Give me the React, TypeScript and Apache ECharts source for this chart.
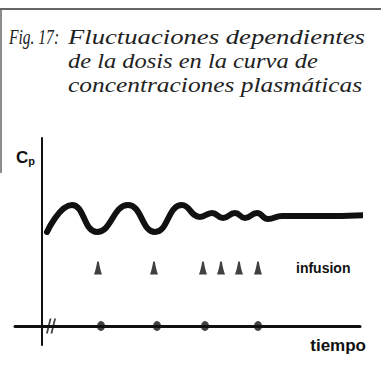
import React, { useEffect, useRef } from "react";
import * as echarts from "echarts";

// Curve of plasma concentration (time units, concentration units)
const timeSamples = [5, 30, 55, 86, 113, 140, 158, 170, 181, 193, 203, 215, 226, 240, 278, 325];
const concentration = [94, 121, 94, 121, 94, 121, 109, 113, 108, 113, 108, 113, 107, 110, 110, 111];
// Infusion markers (arrowheads)
const infusionTimes = [56, 112, 161, 179, 197, 216];
const infusionLevel = 58;
// Dose marks on the time axis
const doseTimes = [59, 115, 163, 216];
// Axis break position
const breakTimes = [9];

const titleLead = "Fig. 17:";
const titleLines = [
  "Fluctuaciones dependientes",
  "de la dosis en la curva de",
  "concentraciones plasmáticas",
];
const xAxisName = "tiempo";
const yAxisName = "C";
const yAxisSub = "p";
const infusionLabel = "infusion";

// layout: horizontal stretch of title lines to mimic the original (wider) typeface
const leadScale = 0.74;
const lineScales = [1.27, 1.165, 1.21];

const titleStyle = {
  fontFamily: "Liberation Serif, serif",
  fontStyle: "italic",
  fontSize: 21,
  fill: "#222",
  verticalAlign: "middle",
};

export default function App() {
  const ref = useRef<HTMLDivElement>(null);
  useEffect(() => {
    if (!ref.current) return;
    const chart = echarts.init(ref.current, null, { renderer: "svg" });
    const ink = "#111";
    const option: any = {
      animation: false,
      backgroundColor: "#fff",
      grid: { left: 15, right: 21, top: 138, bottom: 35 },
      xAxis: {
        type: "value",
        min: -27,
        max: 318,
        axisLine: { show: true, onZero: true, lineStyle: { color: ink, width: 3 } },
        axisTick: { show: false },
        axisLabel: { show: false },
        splitLine: { show: false },
      },
      yAxis: {
        type: "value",
        min: -19,
        max: 188,
        axisLine: { show: true, onZero: true, lineStyle: { color: ink, width: 2 } },
        axisTick: { show: false },
        axisLabel: { show: false },
        splitLine: { show: false },
      },
      series: [
        {
          type: "line",
          data: timeSamples.map((t, i) => [t, concentration[i]]),
          smooth: 0.5,
          symbol: "none",
          clip: false,
          lineStyle: { color: ink, width: 6, cap: "round", join: "round" },
          z: 3,
        },
        {
          type: "scatter",
          data: infusionTimes.map((t) => [t, infusionLevel]),
          symbol: "path://M4,0 L6,0 C7,5 8.5,9 10,12 L0,12 C1.5,9 3,5 4,0 Z",
          symbolSize: [8, 13],
          itemStyle: { color: ink },
        },
        {
          type: "scatter",
          data: doseTimes.map((t) => [t, 0]),
          symbol: "circle",
          symbolSize: [8, 10],
          itemStyle: { color: ink },
          z: 4,
        },
        {
          type: "scatter",
          data: breakTimes.map((t) => [t, 0]),
          symbol: "path://M4,0 L6,0 L2,14 L0,14 Z M9,0 L11,0 L7,14 L5,14 Z",
          symbolSize: [10, 15],
          itemStyle: { color: ink },
          z: 4,
        },
      ],
      graphic: [
        { type: "line", shape: { x1: 0, y1: 9, x2: 381, y2: 9 }, style: { stroke: "#333", lineWidth: 1.5 } },
        { type: "line", shape: { x1: 1, y1: 9, x2: 1, y2: 173 }, style: { stroke: "#666", lineWidth: 1.5 } },
        {
          type: "text",
          x: 9,
          y: 37,
          scaleX: leadScale,
          style: { ...titleStyle, text: titleLead },
        },
        ...titleLines.map((t, i) => ({
          type: "text",
          x: 68,
          y: 37 + i * 24,
          scaleX: lineScales[i],
          style: { ...titleStyle, text: t },
        })),
        {
          type: "text",
          x: 16,
          y: 157,
          style: {
            text: `{c|${yAxisName}}{p|${yAxisSub}}`,
            verticalAlign: "middle",
            rich: {
              c: { fontFamily: "Liberation Sans", fontWeight: "bold", fontSize: 17, fill: ink },
              p: { fontFamily: "Liberation Sans", fontWeight: "bold", fontSize: 11, fill: ink, padding: [7, 0, 0, 0] },
            },
          },
        },
        {
          type: "text",
          x: 296,
          y: 268,
          style: {
            text: infusionLabel,
            fontFamily: "Liberation Sans",
            fontWeight: "bold",
            fontSize: 14,
            fill: ink,
            verticalAlign: "middle",
          },
        },
        {
          type: "text",
          x: 366,
          y: 345,
          style: {
            text: xAxisName,
            fontFamily: "Liberation Sans",
            fontWeight: "bold",
            fontSize: 17,
            fill: ink,
            align: "right",
            verticalAlign: "middle",
          },
        },
      ],
    };
    chart.setOption(option);
    return () => chart.dispose();
  }, []);
  return (
    <div
      ref={ref}
      style={{ position: "absolute", left: 0, top: 0, width: 381, height: 380 }}
    />
  );
}
